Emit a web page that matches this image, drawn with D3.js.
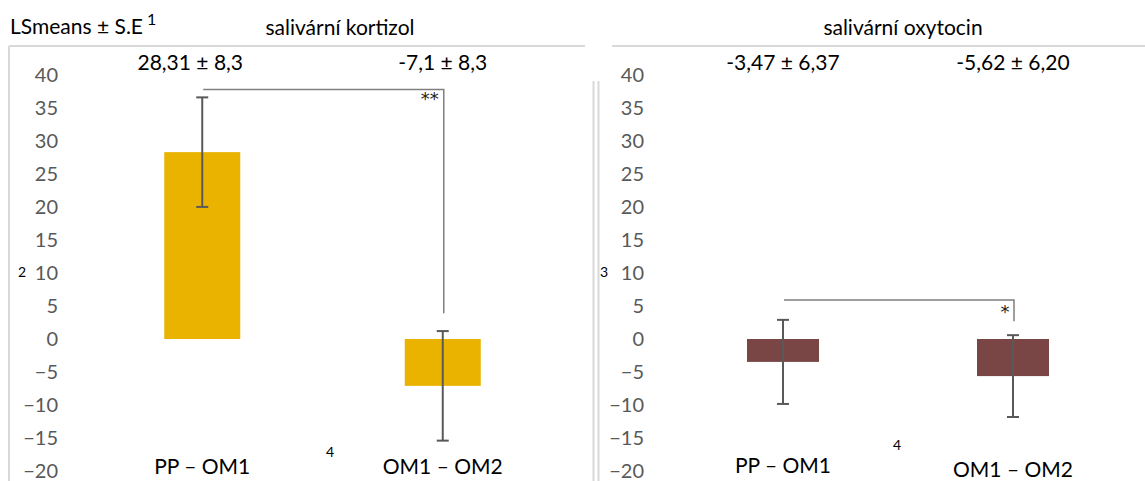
<!DOCTYPE html>
<html><head><meta charset="utf-8">
<script src="https://cdn.jsdelivr.net/npm/d3@7/dist/d3.min.js"></script>
<style>
body{margin:0;background:#fff;}
svg{display:block;font-family:Lato, "Open Sans", sans-serif;}
</style></head>
<body>
<svg id="c" width="1145" height="481"></svg>
<script>
const categories = ["PP – OM1", "OM1 – OM2"];
const panelTitles = ["salivární kortizol", "salivární oxytocin"];
const kortizolMeans = [28.31, -7.1];
const kortizolSE = [8.3, 8.3];
const kortizolLabels = ["28,31 ± 8,3", "-7,1 ± 8,3"];
const oxytocinMeans = [-3.47, -5.62];
const oxytocinSE = [6.37, 6.20];
const oxytocinLabels = ["-3,47 ± 6,37", "-5,62 ± 6,20"];
const yTicks = [40, 35, 30, 25, 20, 15, 10, 5, 0, -5, -10, -15, -20];
const sigMarks = ["**", "*"];
const bracketLevel = [37.8, 5.9];
const bracketEnd = [3.9, 2.7];

const svg = d3.select("#c");
const grid = "#d9d9d9";

const panels = [
  {means:kortizolMeans, se:kortizolSE, labels:kortizolLabels, color:"#E9B300",
   x0:82, x1:563, axisX:58, bw:76, title:panelTitles[0], titleX:340, note:"2", noteX:18, note4X:326, note4Y:457,
   catY:[474,474], sig:sigMarks[0], bl:bracketLevel[0], be:bracketEnd[0], sigDx:-14, sigDy:15},
  {means:oxytocinMeans, se:oxytocinSE, labels:oxytocinLabels, color:"#7A4545",
   x0:668, x1:1128, axisX:644, bw:72, title:panelTitles[1], titleX:903, note:"3", noteX:600, note4X:893, note4Y:450,
   catY:[473,477], sig:sigMarks[1], bl:bracketLevel[1], be:bracketEnd[1], sigDx:-9, sigDy:18}
];

// frames
svg.append("line").attr("x1",9).attr("x2",585).attr("y1",46).attr("y2",46).attr("stroke",grid).attr("stroke-width",2);
svg.append("line").attr("x1",9).attr("x2",9).attr("y1",46).attr("y2",481).attr("stroke",grid).attr("stroke-width",2);
svg.append("line").attr("x1",612).attr("x2",1145).attr("y1",46).attr("y2",46).attr("stroke",grid).attr("stroke-width",2);
svg.append("line").attr("x1",593.5).attr("x2",593.5).attr("y1",81).attr("y2",481).attr("stroke",grid).attr("stroke-width",2);
svg.append("line").attr("x1",598.5).attr("x2",598.5).attr("y1",81).attr("y2",481).attr("stroke",grid).attr("stroke-width",2);

// header
const hdr = svg.append("text").attr("x",10).attr("y",34).attr("font-size",21).attr("fill","#000");
hdr.append("tspan").text("LSmeans ± S.E");
hdr.append("tspan").attr("dx",4).attr("dy",-9).attr("font-size",16).text("1");

panels.forEach((p,pi)=>{
  const y = d3.scaleLinear().domain([-20,40]).range([471,75]);
  const x = d3.scaleBand().domain(categories).range([p.x0,p.x1]);
  const g = svg.append("g");

  // title
  g.append("text").attr("x",p.titleX).attr("y",35).attr("text-anchor","middle")
    .attr("font-size",21).attr("fill","#000").text(p.title);

  // axis
  const ax = g.append("g").attr("transform",`translate(${p.axisX},0)`)
    .call(d3.axisLeft(y).tickValues(yTicks).tickSize(0).tickPadding(0).tickFormat(d3.format("d")));
  ax.select(".domain").remove();
  ax.selectAll("text").attr("font-size",20).attr("fill","#595959").attr("font-family","Lato, sans-serif").attr("dy","0.3em");

  // bars
  g.selectAll("rect.bar").data(p.means).join("rect")
    .attr("x",(d,i)=>x(categories[i])+x.bandwidth()/2-p.bw/2)
    .attr("width",p.bw)
    .attr("y",d=>y(Math.max(0,d)))
    .attr("height",d=>Math.abs(y(d)-y(0)))
    .attr("fill",p.color);

  // error bars
  const cx = i => x(categories[i])+x.bandwidth()/2;
  p.means.forEach((m,i)=>{
    const c = cx(i), hi=y(m+p.se[i]), lo=y(m-p.se[i]);
    g.append("line").attr("x1",c).attr("x2",c).attr("y1",hi).attr("y2",lo).attr("stroke","#595959").attr("stroke-width",2);
    [hi,lo].forEach(yy=>g.append("line").attr("x1",c-6).attr("x2",c+6).attr("y1",yy).attr("y2",yy).attr("stroke","#595959").attr("stroke-width",2));
  });

  // value labels
  g.selectAll("text.val").data(p.labels).join("text")
    .attr("x",(d,i)=>cx(i)+(pi===0&&i===0?-12:0)).attr("y",70).attr("text-anchor","middle")
    .attr("font-size",21).attr("fill","#000").text(d=>d);

  // categories
  g.selectAll("text.cat").data(categories).join("text")
    .attr("x",(d,i)=>cx(i)).attr("y",(d,i)=>p.catY[i]).attr("text-anchor","middle")
    .attr("font-size",21).attr("fill","#000").text(d=>d);

  // bracket
  const b1 = cx(0)+1, b2 = cx(1)+1;
  g.append("path").attr("d",`M${b1},${y(p.bl)}H${b2}V${y(p.be)}`).attr("fill","none")
    .attr("stroke","#7f7f7f").attr("stroke-width",1.5);
  g.append("text").attr("x",b2+p.sigDx).attr("y",y(p.bl)+p.sigDy).attr("text-anchor","middle")
    .attr("font-size",18).attr("fill","#222").attr("font-family","DejaVu Sans, sans-serif").text(p.sig);

  // notes
  g.append("text").attr("x",p.noteX).attr("y",277).attr("font-size",14).attr("fill","#000").text(p.note);
  g.append("text").attr("x",p.note4X).attr("y",p.note4Y).attr("font-size",14).attr("fill","#000").text("4");
});
</script>
</body></html>
